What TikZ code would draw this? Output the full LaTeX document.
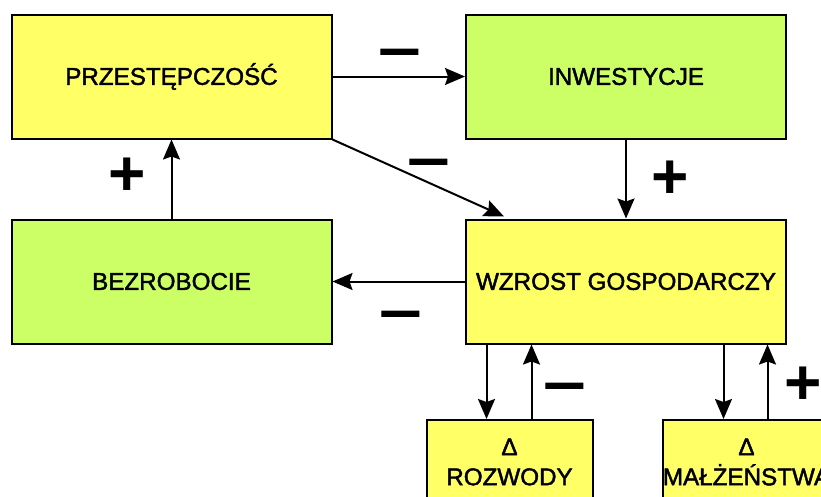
\documentclass[tikz,border=0pt]{standalone}
\usepackage{fontspec}
\usepackage{graphicx}
\setmainfont{Liberation Sans}
\usetikzlibrary{arrows.meta,calc}
\definecolor{boxyellow}{HTML}{FFFF66}
\definecolor{boxgreen}{HTML}{CCFF66}
\newfontfamily\labelfont[FakeBold=1.8]{Liberation Sans}
\begin{document}
\begin{tikzpicture}[x=1pt,y=-1pt,
  box/.style={draw=black,line width=2pt,minimum width=320pt,minimum height=124pt,
    inner sep=0pt,align=center,font=\labelfont\fontsize{24.2}{30}\selectfont},
  yel/.style={box,fill=boxyellow},
  grn/.style={box,fill=boxgreen},
  smallbox/.style={minimum width=166pt,minimum height=84pt},
  arr/.style={line width=2pt,-{Stealth[length=20pt,width=17pt,inset=3pt]}},
  sign/.style={font=\fontsize{64}{64}\bfseries\selectfont,inner sep=0pt}
]
\useasboundingbox (0,0) rectangle (821,496);
\clip (0,0) rectangle (821,496);

% boxes
\node[yel] (prz) at (171.5,76.5) {PRZESTĘPCZOŚĆ};
\node[grn] (inw) at (626,76.5) {INWESTYCJE};
\node[grn] (bez) at (171.5,281.5) {BEZROBOCIE};
\node[yel] (wz)  at (626,281.5) {WZROST GOSPODARCZY};
\node[yel,smallbox] (roz) at (509.5,462) {Δ\\ROZWODY};
\node[yel,smallbox] (mal) at (746.5,462) {Δ\\MAŁŻEŃSTWA};

% connectors
\coordinate (wztop) at ($(wz.north west)+(39,-2)$);
\draw[arr] (prz) -- (inw);
\draw[arr] (prz.south east) -- (wztop);
\draw[arr] (inw) -- (wz);
\draw[arr] (bez) -- (prz);
\draw[arr] (wz) -- (bez);
\draw[arr] ([xshift=-23pt]roz.north |- wz.south) -- ([xshift=-23pt]roz.north);
\draw[arr] ([xshift=22pt]roz.north) -- ([xshift=22pt]roz.north |- wz.south);
\draw[arr] ([xshift=-23pt]mal.north |- wz.south) -- ([xshift=-23pt]mal.north);
\draw[arr] ([xshift=21pt]mal.north) -- ([xshift=21pt]mal.north |- wz.south);

% signs
\newcommand\minussign{\scalebox{1.2}[1]{–}}
\node[sign] (s1) at (400,59) {\minussign};
\node[sign] (s2) at (429,169) {\minussign};
\node[sign] (s3) at (127.5,177) {+};
\node[sign] (s4) at (670,180) {+};
\node[sign] (s5) at (401,321) {\minussign};
\node[sign] (s6) at (565,393) {\minussign};
\node[sign] (s7) at (803,386) {+};
\end{tikzpicture}
\end{document}
